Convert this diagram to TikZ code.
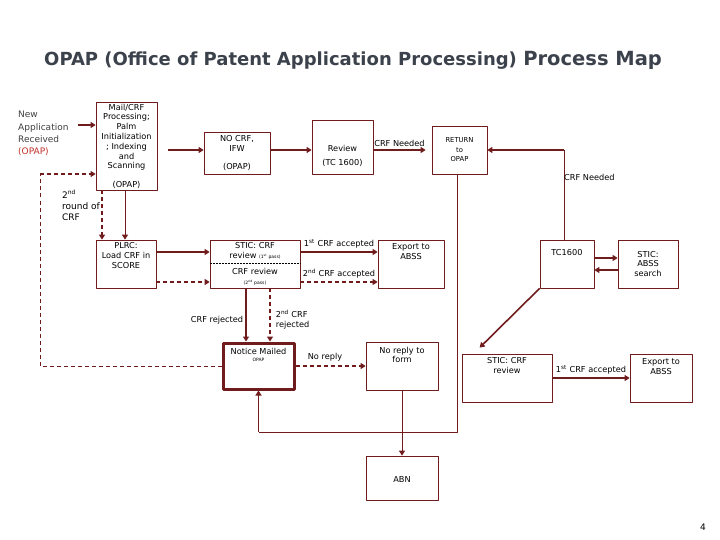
\documentclass[tikz,border=0pt]{standalone}
\usepackage{fontspec}
\setmainfont{DejaVu Sans}
\usetikzlibrary{arrows.meta,positioning}
\definecolor{maroon}{RGB}{112,28,28}
\definecolor{opapred}{RGB}{192,48,40}
\definecolor{titlegray}{RGB}{60,66,76}
\tikzset{
  box/.style 2 args={draw=maroon, line width=0.7pt, minimum width=#1, minimum height=#2, inner sep=0pt},
  txt/.style={font=\fontsize{8.2}{9.8}\selectfont, align=center, inner sep=0pt},
  tinytxt/.style={font=\fontsize{4.5}{5}\selectfont, inner sep=0pt},
  arr/.style={->, draw=maroon, line width=1.6pt},
  darr/.style={arr, dash pattern=on 4pt off 3pt},
  link/.style={draw=maroon, line width=0.8pt},
}
\begin{document}
\begin{tikzpicture}[x=1pt, y=-1pt, >={Triangle[length=5pt,width=6pt]}, line join=round]
\useasboundingbox (0,0) rectangle (720,540);
% title
\node[anchor=base west, inner sep=0pt, text=titlegray, font=\bfseries\fontsize{18}{21}\selectfont] (title) at (44,66) {OPAP (Office of Patent Application Processing)};
\node[anchor=base west, inner sep=0pt, text=titlegray, font=\bfseries\fontsize{19.5}{22}\selectfont] (titlemap) at ([xshift=6pt]title.base east) {Process Map};
\node[txt, align=left, anchor=north west, font=\fontsize{9}{12.3}\selectfont, text=black!75] (newapp) at (18,111) {New\\Application\\Received\\\textcolor{opapred}{(OPAP)}};
\node[txt, align=left, anchor=north west, font=\fontsize{9}{11}\selectfont] (round) at (62,190) {2\textsuperscript{nd}\\round of\\CRF};
% boxes
\node[box={61pt}{88pt}] (mail) at (126.5,146) {};
\node[box={66pt}{42pt}] (nocrf) at (237,153) {};
\node[box={61pt}{54pt}] (review) at (342.5,147) {};
\node[box={55pt}{48pt}] (ret) at (459.5,150) {};
\node[box={60pt}{48pt}] (plrc) at (126,264) {};
\node[box={90pt}{48pt}] (stic) at (255,264) {};
\node[box={66pt}{48pt}] (exporta) at (411,264) {};
\node[box={54pt}{48pt}] (tc) at (567,264) {};
\node[box={60pt}{48pt}] (abss) at (648,264) {};
\node[box={71pt}{46pt}, line width=3pt] (notice) at (258.5,366) {};
\node[box={72pt}{48pt}] (noreply) at (402,366) {};
\node[box={72pt}{44pt}] (abn) at (402,478) {};
\node[box={90pt}{48pt}] (sticr) at (507,378) {};
\node[box={62pt}{48pt}] (exportb) at (661,378) {};
% box texts
\node[txt, below=2pt of mail.north] {Mail/CRF\\Processing;\\Palm\\Initialization\\; Indexing\\and\\Scanning};
\node[txt, above=2pt of mail.south] {(OPAP)};
\node[txt, below=4pt of nocrf.north] {NO CRF,\\IFW};
\node[txt, above=4pt of nocrf.south] {(OPAP)};
\node[txt, font=\fontsize{8.2}{14}\selectfont] at ([yshift=-9pt]review.center) {Review\\(TC 1600)};
\node[txt, font=\fontsize{6.8}{9.5}\selectfont] at (ret.center) {RETURN\\to\\OPAP};
\node[txt, below=3pt of plrc.north] {PLRC:\\Load CRF in\\SCORE};
\node[txt, below=3pt of stic.north] {STIC: CRF\\review {\fontsize{4.5}{5}\selectfont(1\textsuperscript{st} pass)}};
\draw[densely dotted, line width=0.5pt] ([yshift=0.5pt]stic.west) -- ([yshift=0.5pt]stic.east);
\node[txt, above=3pt of stic.south] {CRF review\\{\fontsize{4.5}{5}\selectfont(2\textsuperscript{nd} pass)}};
\node[txt, below=4pt of exporta.north] {Export to\\ABSS};
\node[txt, below=10pt of tc.north] {TC1600};
\node[txt] at (abss.center) {STIC:\\ABSS\\search};
\node[txt, below=7pt of notice.north] (noticetxt) {Notice Mailed};
\node[tinytxt, below=2.5pt of noticetxt] {OPAP};
\node[txt, below=5pt of noreply.north] {No reply to\\form};
\node[txt] at ([yshift=-2pt]abn.center) {ABN};
\node[txt, below=4pt of sticr.north] {STIC: CRF\\review};
\node[txt, below=5pt of exportb.north] {Export to\\ABSS};
% connectors
\coordinate (newin) at (78,125);
\draw[arr] (newin) -- ([yshift=21pt]mail.west);
\draw[arr] ([xshift=11pt,yshift=-4pt]mail.east) -- ([yshift=3pt]nocrf.west);
\draw[arr] ([yshift=3pt]nocrf.east) -- ([yshift=-3pt]review.west);
\draw[arr] ([yshift=-3pt]review.east) -- node[txt, above=3pt] {CRF Needed} ([xshift=-6pt]ret.west);
\coordinate (tcup) at ([xshift=-3pt]tc.north |- ret.east);
\draw[link] ([xshift=-3pt]tc.north) -- (tcup);
\draw[arr] (tcup) -- (ret.east);
\node[txt, anchor=west] at ([yshift=-27pt]tcup) {CRF Needed};
\coordinate (loopb) at (457,432);
\draw[link] ([xshift=-2.5pt]ret.south) -- (loopb) -- (notice.south |- loopb);
\draw[arr] (notice.south |- loopb) -- (notice.south);
\draw[arr, line width=1pt] ([xshift=-1pt]plrc.north |- mail.south) -- ([xshift=-1pt]plrc.north);
\draw[darr] ([xshift=-24pt]plrc.north |- mail.south) -- ([xshift=-24pt]plrc.north);
\draw[arr] ([yshift=12pt]plrc.east) -- ([yshift=12pt]stic.west);
\draw[darr] ([yshift=-18pt]plrc.east) -- ([yshift=-18pt]stic.west);
\draw[arr] ([yshift=12pt]stic.east) -- node[txt, above=3pt] {1\textsuperscript{st} CRF accepted} ([yshift=12pt]exporta.west);
\draw[darr] ([yshift=-18pt]stic.east) -- node[txt, above=3pt] {2\textsuperscript{nd} CRF accepted} ([yshift=-18pt]exporta.west);
\draw[arr] ([xshift=-9pt]stic.south) -- node[txt, pos=0.6, left=2pt] {CRF rejected} ([xshift=-9pt]stic.south |- notice.north);
\draw[darr] ([xshift=15pt]stic.south) -- node[txt, pos=0.59, right=5pt, align=left] {2\textsuperscript{nd} CRF\\rejected} ([xshift=15pt]stic.south |- notice.north);
\draw[darr] (notice.east) -- node[txt, pos=0.42, above=4pt] {No reply} (noreply.west);
\coordinate (loopt) at (40,174);
\draw[link, dash pattern=on 4pt off 3pt] (notice.west) -| (loopt);
\draw[darr] (loopt) -- (loopt -| mail.west);
\draw[arr, line width=1pt] (noreply.south) -- (abn.north);
\draw[arr] ([yshift=6pt]tc.east) -- ([yshift=6pt]abss.west);
\draw[arr] ([yshift=-6pt]abss.west) -- ([yshift=-6pt]tc.east);
\draw[arr] (tc.south west) -- ([shift={(18pt,6pt)}]sticr.north west);
\draw[arr] (sticr.east) -- node[txt, above=3pt] {1\textsuperscript{st} CRF accepted} (exportb.west);
\node[txt, font=\fontsize{9}{10}\selectfont] (pagenum) at (703,527) {4};
\end{tikzpicture}
\end{document}
